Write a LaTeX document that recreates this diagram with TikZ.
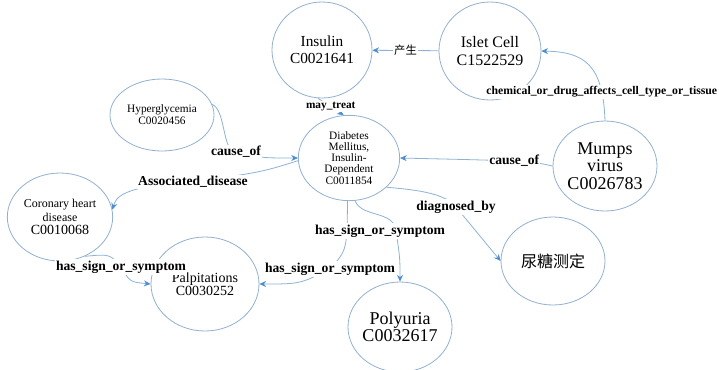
\documentclass[tikz,border=0pt]{standalone}
\usepackage{fontspec}
\setmainfont{Liberation Serif}
\newfontfamily\cjk{Noto Sans CJK SC}
\usetikzlibrary{shapes.geometric,arrows.meta}

\definecolor{ringblue}{RGB}{146,176,206}
\definecolor{linkblue}{RGB}{140,178,214}
\definecolor{tipblue}{RGB}{78,142,206}

\tikzset{
  concept/.style={ellipse, draw=ringblue, line width=0.6pt, inner sep=-20pt, align=center},
  rel/.style={draw=linkblue, line width=0.6pt, -{Stealth[length=5pt,width=4.5pt,color=tipblue]}},
  lbl/.style={fill=white, inner sep=1pt, font=\fontsize{10.2}{11}\selectfont\bfseries}
}

\begin{document}
\begin{tikzpicture}[x=0.75pt,y=0.75pt,yscale=-1,xscale=1]
\useasboundingbox (0,0) rectangle (719,369);

% Concepts
\node[concept, minimum width=75pt, minimum height=72pt, font=\fontsize{11.5}{12.75}\selectfont] (insulin) at (322,50) {Insulin\\C0021641};
\node[concept, minimum width=76.5pt, minimum height=73.5pt, font=\fontsize{12}{13}\selectfont] (islet) at (490,51) {Islet Cell\\C1522529};
\node[concept, minimum width=78pt, minimum height=54pt, font=\fontsize{8.5}{9}\selectfont] (hyper) at (162,115) {Hyperglycemia\\C0020456};
\node[concept, minimum width=76pt, minimum height=64pt, font=\fontsize{8.5}{8.3}\selectfont] (diab) at (349,158) {Diabetes\\Mellitus,\\Insulin-\\Dependent\\C0011854};
\node[concept, minimum width=78pt, minimum height=67.5pt, font=\fontsize{13.5}{13}\selectfont] (mumps) at (605,166) {Mumps\\virus\\C0026783};
\node[concept, minimum width=79pt, minimum height=66pt, font=\fontsize{9}{10}\selectfont] (coronary) at (60,217) {Coronary heart\\disease\\{\fontsize{10.5}{10}\selectfont C0010068}};
\node[concept, minimum width=81pt, minimum height=70.5pt, font=\fontsize{10.5}{10}\selectfont] (palp) at (205,284) {Palpitations\\C0030252};
\node[concept, minimum width=78pt, minimum height=67.5pt, font=\fontsize{13.5}{12.75}\selectfont] (poly) at (400,327) {Polyuria\\C0032617};
\node[concept, minimum width=78pt, minimum height=66pt, font=\cjk\fontsize{12}{14}\selectfont] (urine) at (553,261) {尿糖测定};

% Relations
\draw[rel] (islet) -- node[lbl, font=\cjk\fontsize{8.5}{10}\selectfont] {产生} (insulin);
\draw[rel] (mumps.north) .. controls (603,65) and (585,52) .. node[lbl, pos=0.2, font=\fontsize{8.8}{11}\selectfont\bfseries] {chemical\_or\_drug\_affects\_cell\_type\_or\_tissue} (islet.east);
\draw[rel] (insulin.-95) -- node[lbl, font=\fontsize{8.5}{10}\selectfont\bfseries] {may\_treat} (diab.97);
\draw[rel] (mumps.west) .. controls (530,161) .. node[lbl, pos=0.52] {cause\_of} (diab.east);
\draw[rel] (hyper.12) .. controls (226,110) and (222,152) .. (236,152) node[lbl] {cause\_of} .. controls (262,158) .. (diab.west);
\draw[rel] (diab.183) .. controls (262,172) .. (193,182) node[lbl] {Associated\_disease} .. controls (120,186) and (116,198) .. (coronary.8);
\draw[rel] (coronary.-58) .. controls (110,254) .. (121,267) node[lbl] {has\_sign\_or\_symptom} .. controls (130,282) .. (palp.west);
\draw[rel] (diab.-92) .. controls (347,250) .. (330,269) node[lbl] {has\_sign\_or\_symptom} .. controls (300,284) .. (palp.east);
\draw[rel] (diab.-82) .. controls (362,218) and (394,210) .. (396,231) node[lbl, xshift=-12pt] {has\_sign\_or\_symptom} .. controls (400,258) .. (poly.north);
\draw[rel] (diab.-38) .. controls (420,190) and (446,194) .. (456,207) node[lbl] {diagnosed\_by} -- (urine.west);

\end{tikzpicture}
\end{document}
